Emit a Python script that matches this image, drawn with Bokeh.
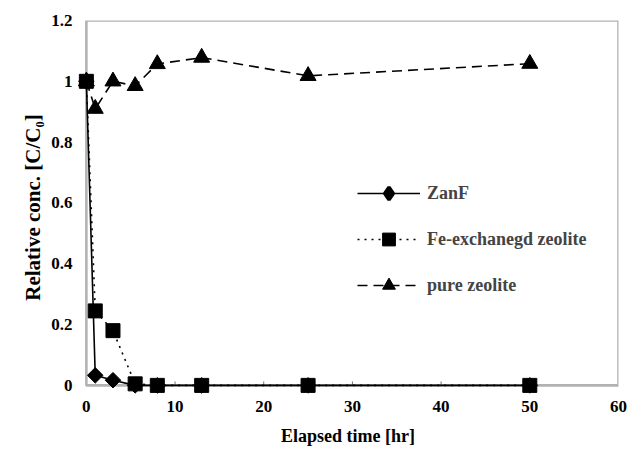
import math
from bokeh.plotting import figure
from bokeh.models import Range1d, FixedTicker, Legend, LegendItem, BoxAnnotation
from bokeh.embed import file_html
from bokeh.resources import INLINE

time_zanf = [0, 1, 3, 5.5, 8, 13, 25, 50]
zanf = [1.0, 0.033, 0.017, 0.0, 0.0, 0.0, 0.0, 0.0]
time_fe = [0, 1, 3, 5.5, 8, 13, 25, 50]
fe = [1.0, 0.245, 0.18, 0.005, 0.0, 0.0, 0.0, 0.0]
time_pure = [0, 1, 3, 5.5, 8, 13, 25, 50]
pure = [1.0, 0.91, 1.0, 0.985, 1.057, 1.078, 1.018, 1.058]
x_ticks = [0, 10, 20, 30, 40, 50, 60]
y_ticks = [0, 0.2, 0.4, 0.6, 0.8, 1.0, 1.2]
y_tick_labels = {0: "0", 0.2: "0.2", 0.4: "0.4", 0.6: "0.6", 0.8: "0.8", 1.0: "1", 1.2: "1.2"}
x_min, x_max = 0, 60
y_min, y_max = 0, 1.2

FONT = "Liberation Serif"

p = figure(width=630, height=459, output_backend="svg", toolbar_location=None,
           x_range=Range1d(-1.0, x_max), y_range=Range1d(-0.03, y_max),
           min_border_left=77, min_border_right=12, min_border_top=20, min_border_bottom=65)
p.grid.visible = False
p.outline_line_color = None
p.background_fill_color = "white"
p.border_fill_color = "white"

# plot box drawn at the data limits (0..60, 0..1.2)
p.add_layout(BoxAnnotation(left=x_min, right=x_max, bottom=y_min, top=y_max,
                           fill_alpha=0, line_color="black", line_width=2.6, level="underlay"))

# small inside ticks on the bottom axis
p.segment(x0=x_ticks[1:-1], y0=[y_min] * (len(x_ticks) - 2), x1=x_ticks[1:-1],
          y1=[y_min + 0.013] * (len(x_ticks) - 2), line_color="#777777", line_width=1)

p.xaxis.ticker = FixedTicker(ticks=x_ticks)
p.yaxis.ticker = FixedTicker(ticks=y_ticks)
p.yaxis.major_label_overrides = y_tick_labels
for ax in (p.xaxis, p.yaxis):
    ax.axis_line_color = None
    ax.major_tick_line_color = None
    ax.major_tick_in = 0
    ax.major_tick_out = 0
    ax.minor_tick_line_color = None
    ax.major_label_text_font = FONT
    ax.major_label_text_font_style = "bold"
    ax.major_label_text_font_size = "17px"
    ax.major_label_text_color = "black"
    ax.axis_label_text_font = FONT
    ax.axis_label_text_font_style = "bold"
    ax.axis_label_text_color = "black"
p.xaxis.axis_label_text_font_size = "18px"
p.yaxis.axis_label_text_font_size = "21px"
p.xaxis.major_label_standoff = 6
p.yaxis.major_label_standoff = 5
p.xaxis.axis_label = "Elapsed time [hr]"
p.yaxis.axis_label = "Relative conc. [C/C\u2080]"
p.xaxis.axis_label_standoff = 11
p.yaxis.axis_label_standoff = 3

l1 = p.line(time_zanf, zanf, line_color="black", line_width=1.6)
m1 = p.scatter(time_zanf, zanf, marker="square", angle=math.pi / 4, size=11, color="black")
# diamond shown only in the legend (legend markers ignore the angle)
m1_key = p.scatter(time_zanf, zanf, marker="diamond", size=12, color="black",
                   line_width=3.5, visible=False)
l2 = p.line(time_fe, fe, line_color="black", line_width=1.6, line_dash="2 5")
m2 = p.scatter(time_fe, fe, marker="square", size=14, color="black")
l3 = p.line(time_pure, pure, line_color="black", line_width=1.6, line_dash="10 6")
m3 = p.scatter(time_pure, pure, marker="triangle", size=16, color="black")

legend = Legend(items=[
    LegendItem(label="ZanF", renderers=[l1, m1_key]),
    LegendItem(label="Fe-exchanegd zeolite", renderers=[l2, m2]),
    LegendItem(label="pure zeolite", renderers=[l3, m3]),
], location=(280, 93))
legend.border_line_color = None
legend.background_fill_alpha = 0
legend.label_text_font = FONT
legend.label_text_font_style = "bold"
legend.label_text_font_size = "18px"
legend.glyph_width = 63
legend.glyph_height = 32
legend.label_height = 20
legend.spacing = 14
legend.padding = 0
legend.margin = 0
legend.label_standoff = 7
p.add_layout(legend, "center")

open("out.html", "w").write(file_html(p, INLINE))
